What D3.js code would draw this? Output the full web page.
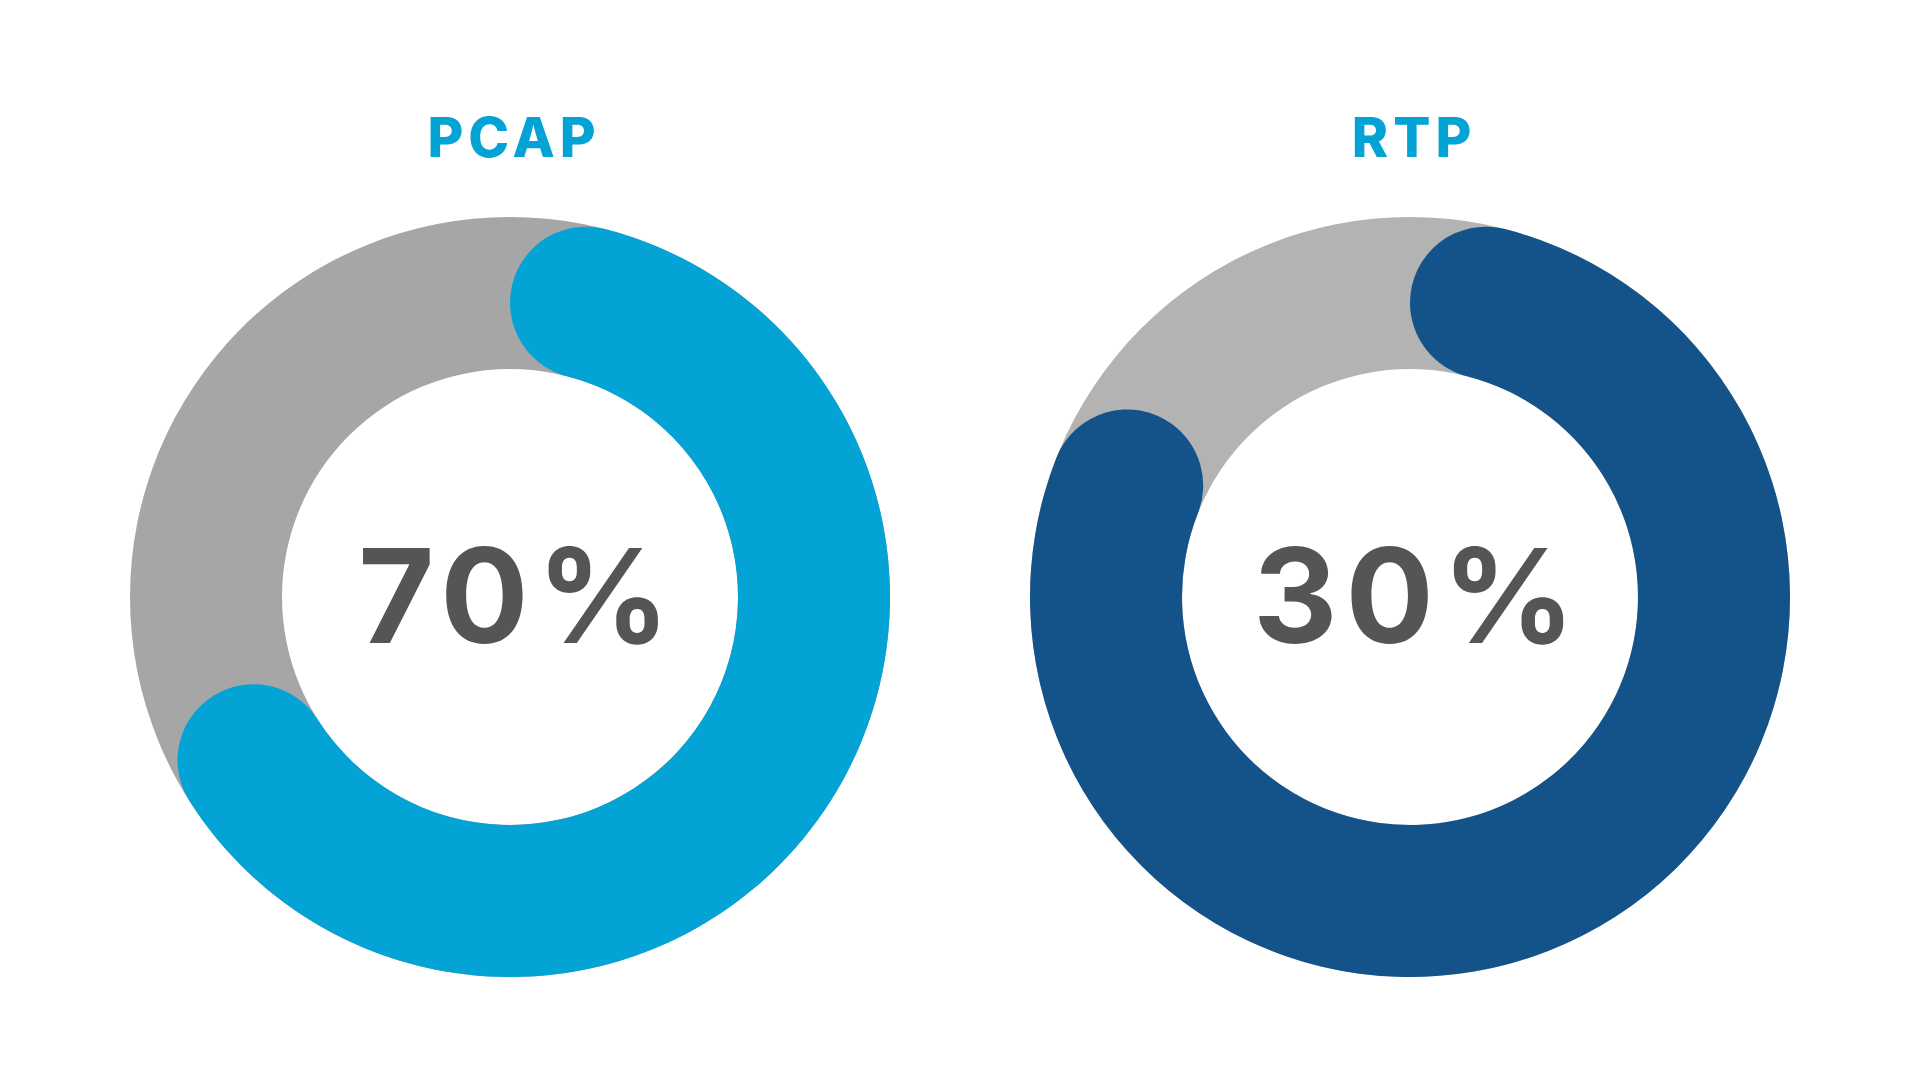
<!DOCTYPE html>
<html>
<head>
<meta charset="utf-8">
<script src="https://cdn.jsdelivr.net/npm/d3@7"></script>
<style>
  html, body { margin: 0; padding: 0; background: #fff; }
  svg { display: block; }
</style>
</head>
<body>
<svg id="chart"></svg>
<script>
// chart data
var titles = ['PCAP', 'RTP']
var labels = ['70%', '30%']
var filled = [0.70, 0.85]   // share of the ring drawn in colour
var colors = ['#03a3d5', '#14538a']
var tracks = ['#a6a6a6', '#b3b3b3']

var width = 1920,
    height = 1080

var svg = d3.select('#chart')
    .attr('width', width)
    .attr('height', height)

var xScale = d3.scalePoint()
    .domain(titles)
    .range([510, 1410])

var outer = 380,
    inner = 228,
    cy = 597

var angle = d3.scaleLinear()
    .domain([0, 1])
    .range([0, 2 * Math.PI])

var track = d3.arc()
    .innerRadius(inner)
    .outerRadius(outer)
    .startAngle(0)
    .endAngle(2 * Math.PI)

var bar = d3.arc()
    .innerRadius(inner)
    .outerRadius(outer)
    .cornerRadius((outer - inner) / 2)
    .startAngle(0)
    .endAngle(d => angle(d))

var groups = svg.selectAll('g.donut')
    .data(titles)
    .enter()
    .append('g')
    .attr('class', 'donut')
    .attr('transform', d => 'translate(' + xScale(d) + ',' + cy + ')')

groups.append('path')
    .attr('d', track())
    .attr('fill', (d, i) => tracks[i])

groups.append('path')
    .attr('d', (d, i) => bar(filled[i]))
    .attr('fill', (d, i) => colors[i])

// big percentage in the middle
groups.append('text')
    .attr('x', 0)
    .attr('dx', 8)
    .attr('y', 643 - cy)
    .attr('text-anchor', 'middle')
    .style('font-family', 'Inter, "Open Sans", sans-serif')
    .style('font-weight', 700)
    .style('font-size', '131px')
    .style('letter-spacing', '8px')
    .attr('fill', '#555555')
    .text((d, i) => labels[i])

// titles above each ring
svg.selectAll('text.title')
    .data(titles)
    .enter()
    .append('text')
    .attr('class', 'title')
    .attr('x', d => xScale(d) + 4)
    .attr('y', 157)
    .attr('text-anchor', 'middle')
    .style('font-family', 'Inter, "Open Sans", sans-serif')
    .style('font-weight', 800)
    .style('font-size', '55px')
    .style('letter-spacing', '5px')
    .attr('fill', '#03a3d5')
    .text(d => d)
</script>
</body>
</html>
